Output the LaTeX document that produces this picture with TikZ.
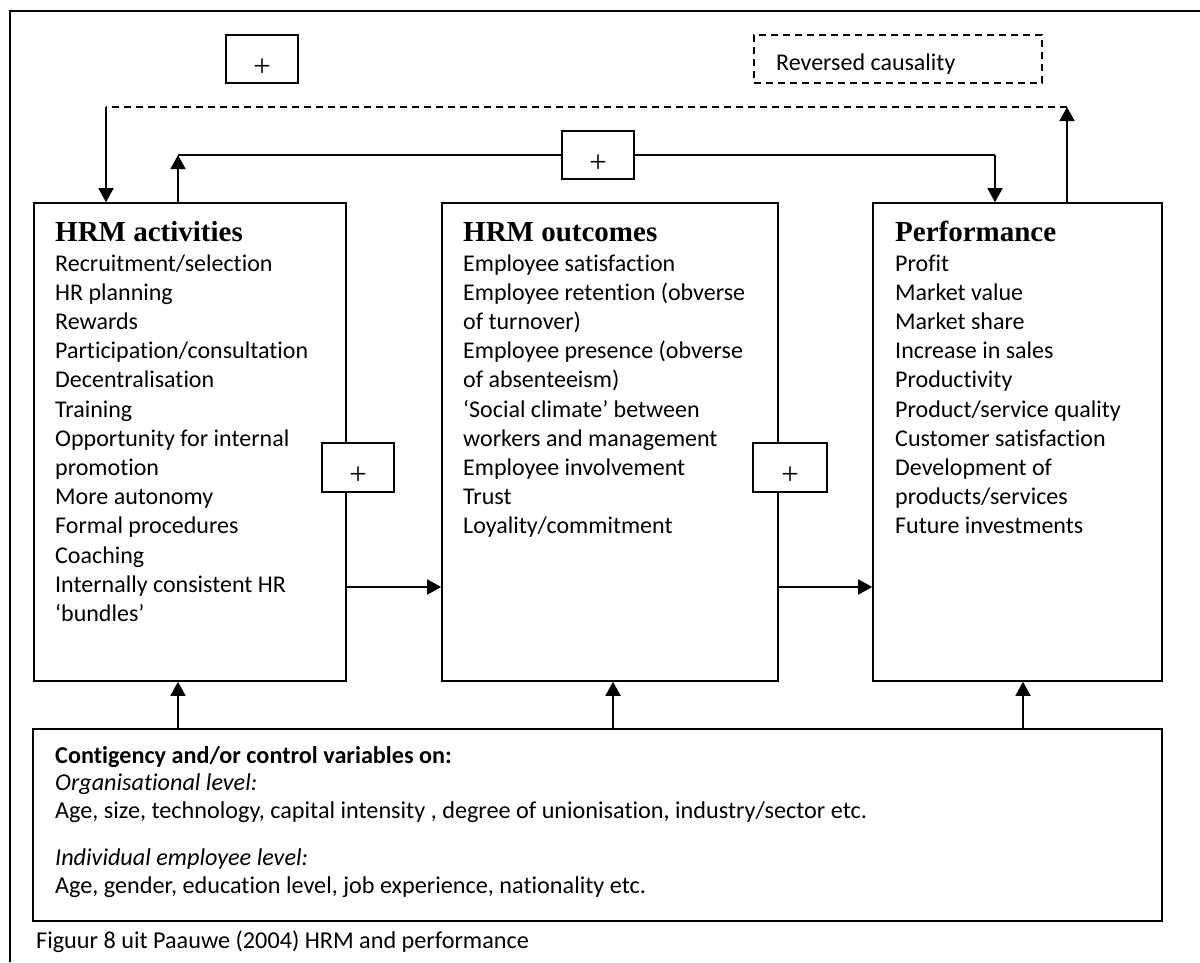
\documentclass[tikz,border=0pt]{standalone}
\usepackage{fontspec}
\setmainfont[Ligatures=NoCommon]{Carlito}
\newfontfamily\tnr{Liberation Serif}
\usetikzlibrary{arrows.meta,calc}
\newcommand{\plussign}{\raisebox{-17pt}[0pt][0pt]{+}}
\begin{document}
\begin{tikzpicture}[x=1pt,y=-1pt,
  box/.style={draw=black,line width=1.6pt,rectangle,inner sep=0pt,fill=white},
  dbox/.style={draw=black,line width=1.4pt,rectangle,inner sep=0pt,dash pattern=on 7pt off 5pt},
  pbox/.style={box,minimum width=72pt,minimum height=48pt,font=\tnr\fontsize{31}{31}\selectfont},
  arr/.style={line width=1.6pt,-{Triangle[length=14pt,width=15pt]}},
  conn/.style={line width=1.6pt},
  dconn/.style={line width=1.6pt,dash pattern=on 7pt off 5pt},
  ttl/.style={anchor=base west,inner sep=0pt,font=\tnr\bfseries\fontsize{29}{30}\selectfont},
  txt/.style={anchor=base west,inner sep=0pt,font=\fontsize{24}{29}\selectfont},
  btxt/.style={anchor=base west,inner sep=0pt,font=\fontsize{24.2}{28}\selectfont}]
\useasboundingbox (0,0) rectangle (1200,962);
\fill[white] (0,0) rectangle (1200,962);
% outer frame (only top and left visible)
\draw[line width=2pt] (10,962) -- (10,11) -- (1200,11);

% main boxes
\node[box,minimum width=312pt,minimum height=478pt] (act) at (190,442) {};
\node[box,minimum width=336pt,minimum height=478pt] (out) at (610,442) {};
\node[box,minimum width=289pt,minimum height=478pt] (perf) at (1017.5,442) {};
\node[box,minimum width=1129pt,minimum height=192pt] (cont) at (597.5,825) {};

% titles
\node[ttl] (actt) at (55,241) {HRM activities};
\node[ttl] (outt) at (463,241) {HRM outcomes};
\node[ttl] (perft) at (895,241) {Performance};

\foreach \t [count=\i] in {Recruitment/selection,HR planning,Rewards,Participation/consultation,Decentralisation,Training,Opportunity for internal,promotion,More autonomy,Formal procedures,Coaching,Internally consistent HR,‘bundles’}
  \node[txt] (a\i) at (55,{271+29.2*(\i-1)}) {\t};
\foreach \t [count=\i] in {Employee satisfaction,Employee retention (obverse,of turnover),Employee presence (obverse,of absenteeism),‘Social climate’ between,workers and management,Employee involvement,Trust,Loyality/commitment}
  \node[txt] (o\i) at (463,{271+29.2*(\i-1)}) {\t};
\foreach \t [count=\i] in {Profit,Market value,Market share,Increase in sales,Productivity,Product/service quality,Customer satisfaction,Development of,products/services,Future investments}
  \node[txt] (f\i) at (895,{271+29.2*(\i-1)}) {\t};

% contingency text
\node[btxt] (c1) at (55,763) {\bfseries Contigency and/or control variables on:};
\node[btxt] (c2) at (55,790) {\itshape Organisational level:};
\node[btxt] (c3) at (55,818) {Age, size, technology, capital intensity , degree of unionisation, industry/sector etc.};
\node[btxt] (c4) at (55,865) {\itshape Individual employee level:};
\node[btxt] (c5) at (55,893) {Age, gender, education level, job experience, nationality etc.};

% caption
\node[btxt] (cap) at (36,948) {Figuur 8 uit Paauwe (2004) HRM and performance};

% top boxes
\node[pbox] (p1) at (262,59) {\plussign};
\node[dbox,minimum width=288pt,minimum height=48pt] (rev) at (898,59) {};
\node[txt] (revt) at (776,70) {Reversed causality};

% feedback loops
\coordinate (rc) at (1067,107);
\coordinate (lc) at (106,107);
\draw[arr] (perf.north -| rc) -- (rc);
\draw[dconn] (rc) -- (lc);
\draw[arr] (lc) -- (act.north -| lc);

\node[pbox] (p2) at (598,155) {\plussign};
\coordinate (sl) at (178,155);
\coordinate (sr) at (995,155);
\draw[arr] (act.north -| sl) -- (sl);
\draw[conn] (sl) -- (p2.west);
\draw[conn] (p2.east) -- (sr);
\draw[arr] (sr) -- (perf.north -| sr);

% horizontal arrows
\coordinate (h) at (0,587);
\draw[arr] (act.east |- h) -- (out.west |- h);
\draw[arr] (out.east |- h) -- (perf.west |- h);

% side plus boxes
\node[pbox,minimum height=49pt] (p3) at (358,467.5) {\plussign};
\node[pbox,minimum width=74pt,minimum height=49pt] (p4) at (790,467.5) {\plussign};

% vertical arrows from contingency box
\coordinate (v1) at (178,0);
\coordinate (v2) at (613,0);
\coordinate (v3) at (1023,0);
\draw[arr] (cont.north -| v1) -- (act.south -| v1);
\draw[arr] (cont.north -| v2) -- (out.south -| v2);
\draw[arr] (cont.north -| v3) -- (perf.south -| v3);
\end{tikzpicture}
\end{document}
